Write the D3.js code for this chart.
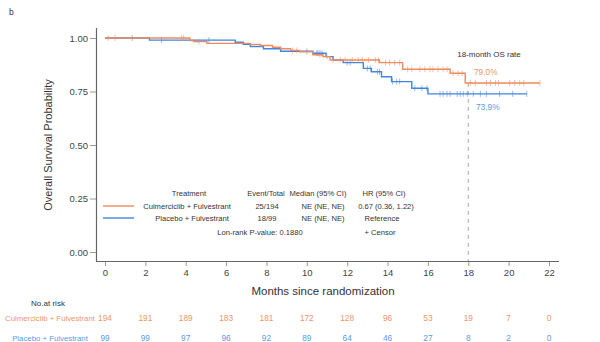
<!DOCTYPE html>
<html>
<head>
<meta charset="utf-8">
<script src="https://cdn.jsdelivr.net/npm/d3@7"></script>
<style>
  body { margin: 0; background: #fff; }
  svg text { font-family: "Liberation Sans", Arial, sans-serif; }
</style>
</head>
<body>
<div id="chart"></div>
<script>
// KM step data (months, survival)
const culmTimes = [0, 4.2, 4.4, 5.05, 7.2, 7.7, 8.3, 8.7, 9.2, 9.65, 10.3, 10.8, 11.15, 13.6, 14.75, 17.1, 17.85, 21.55];
const culmSurv  = [1.0, 0.988, 0.983, 0.975, 0.970, 0.965, 0.957, 0.950, 0.942, 0.936, 0.922, 0.913, 0.897, 0.885, 0.854, 0.835, 0.790, 0.790];
const placTimes = [0, 2.2, 6.45, 6.85, 7.2, 7.85, 8.7, 10.3, 10.95, 11.3, 11.8, 12.8, 13.2, 13.7, 14.2, 15.2, 16.0, 20.9];
const placSurv  = [1.0, 0.990, 0.980, 0.970, 0.960, 0.950, 0.938, 0.929, 0.913, 0.897, 0.885, 0.858, 0.842, 0.819, 0.796, 0.765, 0.739, 0.739];

const culmCensor = [0.15, 0.5, 3.8, 3.9, 4.65, 9.3, 9.5, 10.65, 11.0, 11.3, 11.65, 11.9, 12.25, 12.55, 12.75, 13.05, 13.4, 13.55,
  13.9, 14.1, 14.35, 14.6, 15.0, 15.2, 15.6, 15.85, 16.1, 16.25, 16.5, 16.75, 16.95, 17.25, 17.5, 17.7,
  18.1, 18.35, 18.9, 19.1, 19.35, 19.5, 20.05, 20.3, 20.55, 20.75, 21.55];
const placCensor = [1.35, 2.8, 5.15, 10.0, 10.5, 10.55, 10.65, 10.75, 12.0, 12.15, 13.0, 13.15, 13.5, 13.6, 14.25, 14.45, 14.6,
  15.35, 15.7, 15.95, 16.6, 16.75, 16.95, 17.1, 17.45, 17.6, 17.75, 17.95, 18.25, 18.6, 18.9, 19.55, 20.2, 20.9];

const xTicks = [0, 2, 4, 6, 8, 10, 12, 14, 16, 18, 20, 22];
const yTicks = [0, 0.25, 0.5, 0.75, 1.0];
const culmRisk = [194, 191, 189, 183, 181, 172, 128, 96, 53, 19, 7, 0];
const placRisk = [99, 99, 97, 96, 92, 89, 64, 46, 27, 8, 2, 0];

const ORANGE = '#EE8A5C';
const BLUE = '#3F86DF';
const ORANGE_TXT = '#F09468';
const BLUE_TXT = '#5B9BE6';
const TXT = '#333';

const width = 600, height = 342;
const svg = d3.select('#chart').append('svg')
  .attr('width', width).attr('height', height);

const x = d3.scaleLinear().domain([0, 22]).range([105, 549]);
const y = d3.scaleLinear().domain([0, 1]).range([252, 38]);

svg.append('text').attr('x', 9).attr('y', 15).attr('font-size', 8.5).attr('fill', TXT).text('b');

// Axes
const yAxis = svg.append('g').attr('transform', 'translate(96,0)')
  .call(d3.axisLeft(y).tickValues(yTicks).tickFormat(d3.format('.2f')).tickSize(6).tickSizeOuter(0));
yAxis.select('.domain').remove();
yAxis.selectAll('.tick line').attr('stroke', '#999');
yAxis.selectAll('.tick text').attr('font-size', 9.5).attr('fill', '#444').attr('x', -8);

const xAxis = svg.append('g').attr('transform', 'translate(0,261)')
  .call(d3.axisBottom(x).tickValues(xTicks).tickSize(5).tickSizeOuter(0));
xAxis.select('.domain').remove();
xAxis.selectAll('.tick line').attr('stroke', '#999');
xAxis.selectAll('.tick text').attr('font-size', 9.5).attr('fill', '#444').attr('y', 8);

svg.append('line').attr('x1', 96.5).attr('x2', 96.5).attr('y1', 28).attr('y2', 261.5)
  .attr('stroke', '#666').attr('stroke-width', 1.2);
svg.append('line').attr('x1', 96).attr('x2', 559).attr('y1', 261.5).attr('y2', 261.5)
  .attr('stroke', '#666').attr('stroke-width', 1.2);

svg.append('text').attr('transform', 'translate(52,145) rotate(-90)')
  .attr('text-anchor', 'middle').attr('font-size', 11).attr('fill', TXT)
  .text('Overall Survival Probability');
svg.append('text').attr('x', 323).attr('y', 295).attr('text-anchor', 'middle')
  .attr('font-size', 11.5).attr('fill', TXT).text('Months since randomization');

// 18-month reference line
svg.append('line').attr('x1', x(18)).attr('x2', x(18)).attr('y1', y(0.79)).attr('y2', 261)
  .attr('stroke', '#aaa').attr('stroke-dasharray', '4,4').attr('stroke-width', 1);

// Curves
const line = d3.line().x(d => x(d[0])).y(d => y(d[1])).curve(d3.curveStepAfter);
function survAt(times, surv, t) {
  let s = surv[0];
  for (let i = 0; i < times.length; i++) if (times[i] <= t) s = surv[i];
  return s;
}
const arms = [
  { times: placTimes, surv: placSurv, censor: placCensor, color: BLUE },
  { times: culmTimes, surv: culmSurv, censor: culmCensor, color: ORANGE }
];
arms.forEach(a => {
  svg.append('path').datum(d3.zip(a.times, a.surv)).attr('d', line)
    .attr('fill', 'none').attr('stroke', a.color).attr('stroke-width', 1.4);
  svg.append('g').selectAll('line').data(a.censor).join('line')
    .attr('x1', d => x(d)).attr('x2', d => x(d))
    .attr('y1', d => y(survAt(a.times, a.surv, d)) - 3)
    .attr('y2', d => y(survAt(a.times, a.surv, d)) + 3)
    .attr('stroke', a.color).attr('stroke-width', 0.9).attr('opacity', 0.6);
});

// Annotations
svg.append('text').attr('x', 489).attr('y', 57).attr('text-anchor', 'middle')
  .attr('font-size', 8).attr('fill', TXT).text('18-month OS rate');
svg.append('text').attr('x', 474).attr('y', 75).attr('font-size', 8.3).attr('fill', ORANGE_TXT).text('79.0%');
svg.append('text').attr('x', 476).attr('y', 110).attr('font-size', 8.3).attr('fill', BLUE_TXT).text('73.9%');

// Legend table
const leg = svg.append('g').attr('font-size', 7.6).attr('fill', TXT).attr('text-anchor', 'middle');
const cols = [189, 266, 318, 384];
const header = ['Treatment', 'Event/Total', 'Median (95% CI)', 'HR (95% CI)'];
const row1 = ['Culmerciclib + Fulvestrant', '25/194', 'NE (NE, NE)', '0.67 (0.36, 1.22)'];
const row2 = ['Placebo + Fulvestrant', '18/99', 'NE (NE, NE)', 'Reference'];
const colX1 = [187, 267, 323, 386];
const colX2 = [192, 267, 323, 382];
header.forEach((t, i) => leg.append('text').attr('x', cols[i]).attr('y', 196).text(t));
row1.forEach((t, i) => leg.append('text').attr('x', colX1[i]).attr('y', 209).text(t));
row2.forEach((t, i) => leg.append('text').attr('x', colX2[i]).attr('y', 221).text(t));
leg.append('text').attr('x', 260).attr('y', 235).text('Lon-rank P-value: 0.1880');
leg.append('text').attr('x', 380).attr('y', 235).text('+ Censor');
svg.append('line').attr('x1', 103).attr('x2', 134).attr('y1', 206).attr('y2', 206).attr('stroke', ORANGE).attr('stroke-width', 1.4);
svg.append('line').attr('x1', 103).attr('x2', 134).attr('y1', 218).attr('y2', 218).attr('stroke', BLUE).attr('stroke-width', 1.4);

// Number at risk
svg.append('text').attr('x', 48).attr('y', 306).attr('text-anchor', 'middle')
  .attr('font-size', 8).attr('fill', TXT).text('No.at risk');
svg.append('text').attr('x', 50).attr('y', 321).attr('text-anchor', 'middle')
  .attr('font-size', 7.8).attr('fill', ORANGE_TXT).text('Culmerciclib + Fulvestrant');
svg.append('text').attr('x', 50).attr('y', 340.5).attr('text-anchor', 'middle')
  .attr('font-size', 7.8).attr('fill', BLUE_TXT).text('Placebo + Fulvestrant');
svg.append('g').selectAll('text').data(culmRisk).join('text')
  .attr('x', (d, i) => x(xTicks[i])).attr('y', 321).attr('text-anchor', 'middle')
  .attr('font-size', 8.3).attr('fill', ORANGE_TXT).text(d => d);
svg.append('g').selectAll('text').data(placRisk).join('text')
  .attr('x', (d, i) => x(xTicks[i])).attr('y', 340.5).attr('text-anchor', 'middle')
  .attr('font-size', 8.3).attr('fill', BLUE_TXT).text(d => d);
</script>
</body>
</html>
